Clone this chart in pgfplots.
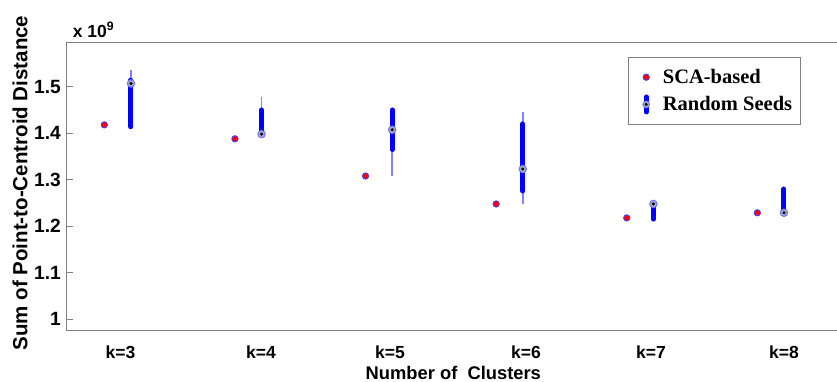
\documentclass[border=0pt]{standalone}
\usepackage{fontspec}
\setmainfont{Liberation Sans}
\newfontfamily\legendfont{Liberation Serif}
\usepackage{pgfplots}
\pgfplotsset{compat=1.18}

\definecolor{axgray}{RGB}{128,128,128}
\definecolor{whisk}{RGB}{130,130,255}
\definecolor{medfill}{RGB}{170,172,200}
\definecolor{medring}{RGB}{120,125,235}

\begin{document}
\begin{tikzpicture}
\begin{axis}[
  x=78.36pt, y=279.1pt,
  xmin=2.6099, xmax=8.508,
  ymin=0.9755, ymax=1.5955,
  separate axis lines,
  axis x line*=box, axis y line*=left,
  axis line style={draw=axgray, line width=0.8pt},
  clip=false,
  unbounded coords=jump,
  xtick={3.022,4.098,5.085,6.127,7.084,8.102},
  xticklabels={k=3,k=4,k=5,k=6,k=7,k=8},
  xticklabel pos=bottom,
  xtick style={draw=none},
  xticklabel style={anchor=base, yshift=-16.6pt, font=\bfseries\fontsize{10.5}{12}\selectfont},
  ytick={1,1.1,1.2,1.3,1.4,1.5},
  yticklabels={1,1.1,1.2,1.3,1.4,1.5},
  ytick style={draw=axgray, line width=0.6pt},
  tick align=inside,
  major tick length=3.6pt,
  yticklabel style={font=\bfseries\fontsize{11.5}{13}\selectfont},
  xlabel={Number of\ \ Clusters},
  ylabel={Sum of Point-to-Centroid Distance},
  every axis x label/.style={at={(axis description cs:0.5019,-0.1675)}, anchor=base, font=\bfseries\fontsize{11}{13}\selectfont},
  every axis y label/.style={at={(axis description cs:-0.0606,0.5121)}, rotate=90, anchor=center, font=\bfseries\fontsize{12.3}{14}\selectfont},
  legend cell align=left,
  legend style={at={(axis description cs:0.7283,0.9501)}, anchor=north west,
    draw=axgray, line width=0.6pt, inner xsep=3pt, inner ysep=5pt, row sep=2.3pt,
    font=\legendfont\bfseries\fontsize{12.3}{14}\selectfont, cells={anchor=west}},
]
% SCA-based results
\addplot[only marks, mark=*, mark size=1.9pt, mark options={fill=red, draw=blue!75, line width=0.5pt},
  legend image code/.code={\path[draw=none,fill=none] (-7.8pt,0) -- (8pt,0); \filldraw[fill=red, draw=blue!75, line width=0.5pt] (0,0) circle[radius=1.9pt];}]
  coordinates {(2.898,1.418) (3.898,1.388) (4.898,1.308) (5.898,1.248) (6.898,1.218) (7.898,1.229)};
\addlegendentry{SCA-based}
\addlegendimage{legend image code/.code={
  \path[draw=none,fill=none] (-7.8pt,0) -- (8pt,0);
  \draw[blue, line width=3pt, line cap=round] (0,-4.5pt) -- (0,4.5pt);
  \filldraw[fill=medfill, draw=medring, line width=0.6pt] (0,0) circle[radius=2pt];
  \fill[black] (0,0) circle[radius=0.6pt];}}
\addlegendentry{Random Seeds}

% Random seeds: whiskers (lower whisker to upper whisker)
\addplot[forget plot, whisk, line width=0.9pt] coordinates {
  (3.102,1.414) (3.102,1.537) (3.102,nan)
  (4.102,1.398) (4.102,1.477) (4.102,nan)
  (5.102,1.308) (5.102,1.450) (5.102,nan)
  (6.102,1.248) (6.102,1.446) (6.102,nan)
  (7.102,1.2155) (7.102,1.248) (7.102,nan)
  (8.102,1.229) (8.102,1.280)};
% Random seeds: interquartile range
\addplot[forget plot, blue, line width=3pt, line cap=round] coordinates {
  (3.102,1.414) (3.102,1.514) (3.102,nan)
  (4.102,1.398) (4.102,1.450) (4.102,nan)
  (5.102,1.365) (5.102,1.450) (5.102,nan)
  (6.102,1.276) (6.102,1.420) (6.102,nan)
  (7.102,1.2155) (7.102,1.248) (7.102,nan)
  (8.102,1.229) (8.102,1.280)};
% Random seeds: medians
\addplot[forget plot, only marks, mark=*, mark size=2.2pt, mark options={fill=medfill, draw=medring, line width=0.7pt}] coordinates {
  (3.102,1.507) (4.102,1.398) (5.102,1.4075) (6.102,1.323) (7.102,1.248) (8.102,1.229)};
\addplot[forget plot, only marks, mark=*, mark size=0.7pt, mark options={fill=black, draw=black}] coordinates {
  (3.102,1.507) (4.102,1.398) (5.102,1.4075) (6.102,1.323) (7.102,1.248) (8.102,1.229)};

\node[anchor=base west, font=\bfseries\fontsize{10.5}{12}\selectfont] at (axis description cs:0.0004,1.0184) {x 10\textsuperscript{9}};
\coordinate (BL) at (axis description cs:-0.0866,-0.1744);
\coordinate (TR) at (axis description cs:1,1.1467);
\end{axis}
\pgfresetboundingbox
\path[use as bounding box] (BL) rectangle (TR);
\end{tikzpicture}
\end{document}
